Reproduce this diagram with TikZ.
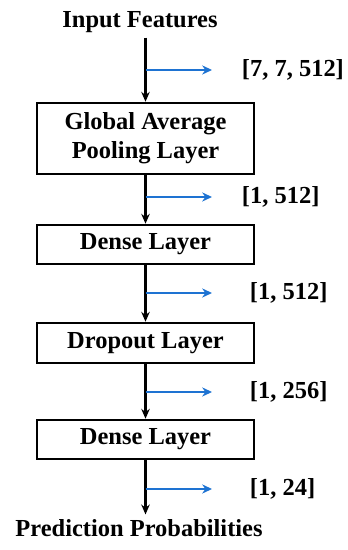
\documentclass[tikz,border=0pt]{standalone}
\usepackage{fontspec}
\setmainfont{Liberation Serif}
\usetikzlibrary{arrows.meta}
\definecolor{shapeblue}{RGB}{30,115,210}

\begin{document}
\begin{tikzpicture}[
            layer/.style={draw, line width=1.8pt, minimum width=5.425cm, inner sep=0pt,
                          align=center, font=\fontsize{17.4}{20.6}\selectfont\bfseries},
            endtxt/.style={font=\fontsize{17.4}{20.6}\selectfont\bfseries},
            dims/.style={anchor=west, font=\fontsize{17.4}{20.6}\selectfont\bfseries},
            flow/.style={line width=1.5pt, -{Stealth[length=7pt,width=6pt]}},
            shapearr/.style={draw=shapeblue, line width=1.9pt, -{Stealth[length=7pt,width=6.5pt]}},
          ]
          \useasboundingbox (0,0) rectangle (8.675,13.75);

          % --- Input and layers (top to bottom) ---
          \node[endtxt] (inp) at (3.5,13.2) {Input Features};
          \node[layer, minimum height=1.775cm] (gap) at (3.6375,10.2875) {Global Average\\Pooling Layer};
          \node[layer, minimum height=0.975cm] (dense1) at (3.6375,7.6375) {Dense Layer};
          \node[layer, minimum height=1.0cm] (drop) at (3.6375,5.175) {Dropout Layer};
          \node[layer, minimum height=0.975cm] (dense2) at (3.6375,2.7625) {Dense Layer};
          \node[endtxt] (pred) at (3.475,0.55) {Prediction Probabilities};

          % --- Main flow ---
          \draw[flow] (inp.south -| gap.north) -- (gap.north);
          \draw[flow] (gap) -- (dense1);
          \draw[flow] (dense1) -- (drop);
          \draw[flow] (drop) -- (dense2);
          \draw[flow] (dense2.south) -- (dense2.south |- pred.north);

          % --- Output shapes (blue side arrows) ---
          \coordinate (b1) at (3.6375,12.0);   \coordinate (e1) at (5.3,12.0);
          \coordinate (b2) at (3.6375,8.825);  \coordinate (e2) at (5.3,8.825);
          \coordinate (b3) at (3.6375,6.425);  \coordinate (e3) at (5.3,6.425);
          \coordinate (b4) at (3.6375,3.95);   \coordinate (e4) at (5.3,3.95);
          \coordinate (b5) at (3.6375,1.525);  \coordinate (e5) at (5.3,1.525);
          \node[dims] (s1) at (5.925,12.0) {[7, 7, 512]};
          \node[dims] (s2) at (5.925,8.825) {[1, 512]};
          \node[dims] (s3) at (6.125,6.425) {[1, 512]};
          \node[dims] (s4) at (6.125,3.95) {[1, 256]};
          \node[dims] (s5) at (6.125,1.525) {[1, 24]};
          \foreach \i in {1,...,5}
            \draw[shapearr] (b\i) -- (e\i);
        \end{tikzpicture}
\end{document}
